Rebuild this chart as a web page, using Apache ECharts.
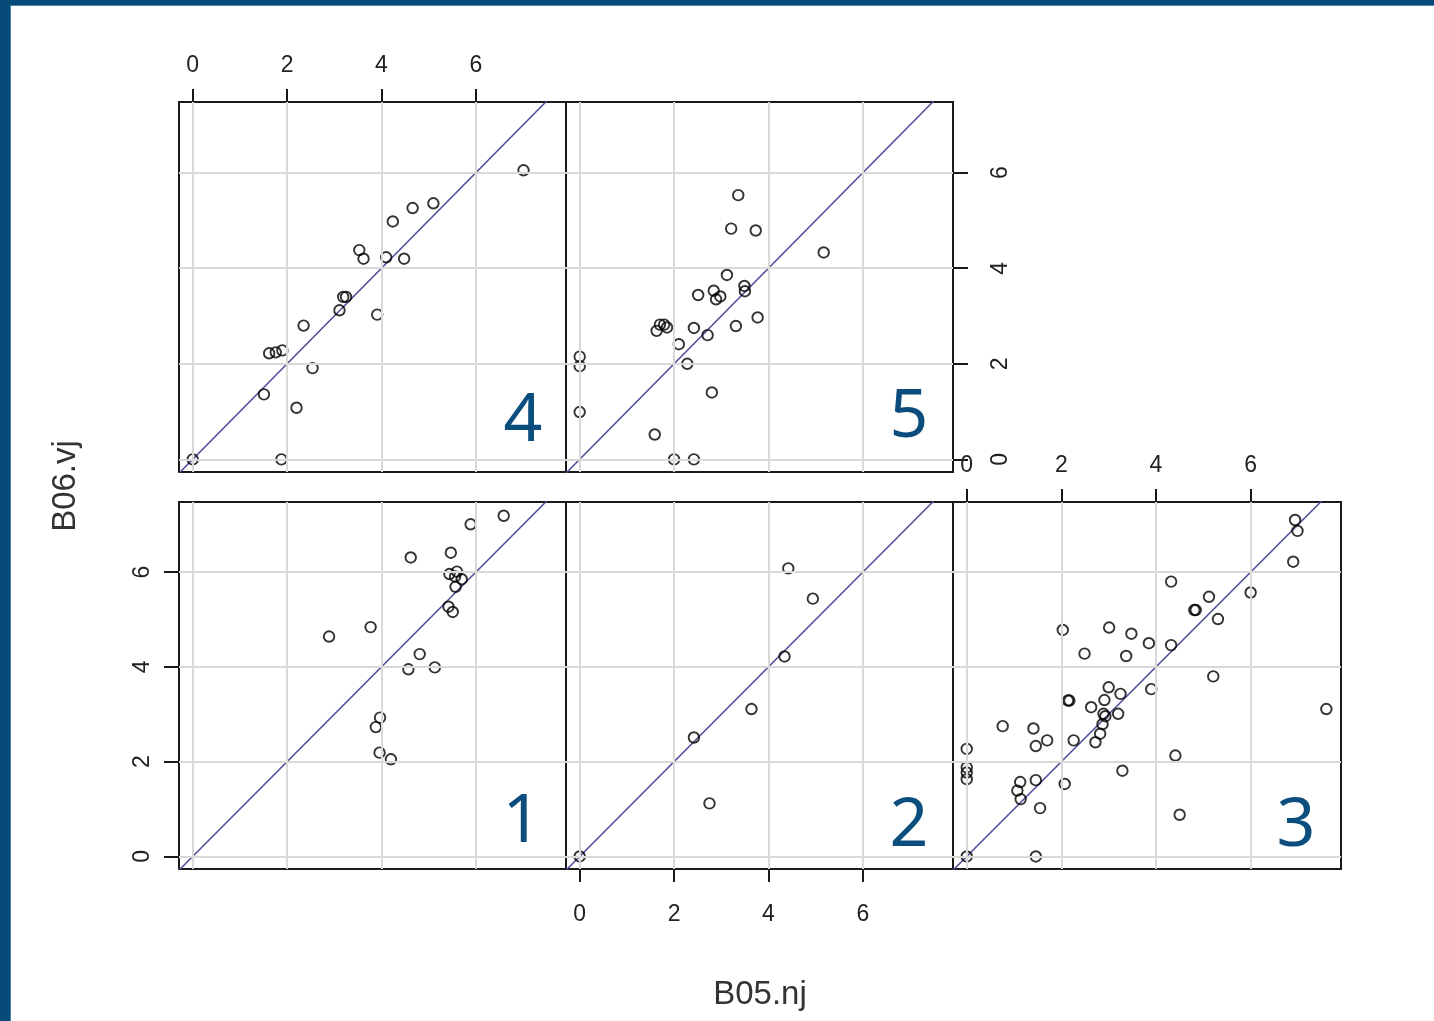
<!DOCTYPE html>
<html><head><meta charset="utf-8">
<script src="https://cdn.jsdelivr.net/npm/echarts@6/dist/echarts.min.js"></script>
<style>html,body{margin:0;padding:0;background:#fff;overflow:hidden}#c{width:1434px;height:1021px}</style>
</head><body><div id="c"></div>
<script>
// ---- data ----
const tickValues = [0, 2, 4, 6];
const gridValues = [0, 2, 4, 6];
const xTitle = 'B05.nj';
const yTitle = 'B06.vj';
const panelNames = ['1', '2', '3', '4', '5'];

const p1x = [6.59, 5.89, 4.62, 5.47, 5.44, 5.60, 5.56, 5.70, 5.57, 5.42, 5.51, 2.89, 3.77, 4.81, 4.57, 5.13, 3.97, 3.88, 3.96, 4.20];
const p1y = [7.19, 7.01, 6.31, 6.41, 5.96, 6.01, 5.91, 5.85, 5.69, 5.27, 5.16, 4.64, 4.84, 4.27, 3.95, 3.99, 2.93, 2.73, 2.19, 2.05];

const p2x = [0, 2.75, 2.42, 3.64, 4.34, 4.94, 4.42];
const p2y = [0, 1.12, 2.51, 3.11, 4.22, 5.44, 6.08];

const p3x = [0, 1.46, 0, 0, 0, 0, 1.13, 1.07, 1.14, 1.46, 1.55, 2.07, 0.76, 1.41, 1.46, 1.70, 2.26, 2.14, 2.17, 2.63, 2.72, 2.82, 2.87, 2.89, 2.93, 2.91, 3.00, 3.25, 3.20, 3.29, 3.90, 2.03, 2.49, 3.01, 3.48, 3.37, 3.85, 4.32, 4.32, 4.81, 4.84, 5.12, 5.31, 5.21, 4.41, 4.50, 6.00, 6.90, 6.94, 6.99, 7.60];
const p3y = [0, 0, 2.27, 1.88, 1.77, 1.63, 1.57, 1.39, 1.21, 1.61, 1.02, 1.53, 2.75, 2.70, 2.33, 2.45, 2.45, 3.29, 3.29, 3.15, 2.41, 2.59, 2.79, 3.01, 2.96, 3.30, 3.57, 3.43, 3.01, 1.81, 3.53, 4.78, 4.28, 4.83, 4.70, 4.23, 4.50, 4.46, 5.80, 5.20, 5.20, 5.48, 5.01, 3.80, 2.13, 0.88, 5.57, 6.22, 7.10, 6.87, 3.11];

const p4x = [0, 1.88, 1.51, 2.20, 2.54, 1.62, 1.76, 1.90, 2.35, 3.11, 3.19, 3.25, 3.91, 3.53, 3.62, 4.10, 4.48, 4.24, 4.66, 5.10, 7.01];
const p4y = [0, 0, 1.36, 1.08, 1.91, 2.22, 2.24, 2.28, 2.80, 3.12, 3.40, 3.40, 3.03, 4.38, 4.20, 4.23, 4.20, 4.98, 5.26, 5.36, 6.05];

const p5x = [0, 0, 0, 1.59, 2.00, 2.42, 2.80, 2.28, 2.10, 1.63, 1.70, 1.79, 1.85, 2.42, 2.71, 3.31, 3.77, 2.51, 2.84, 2.89, 2.98, 3.12, 3.49, 3.50, 3.21, 3.73, 3.36, 5.17];
const p5y = [2.15, 1.95, 0.99, 0.52, 0, 0, 1.40, 2.00, 2.41, 2.69, 2.82, 2.82, 2.76, 2.75, 2.60, 2.79, 2.97, 3.44, 3.53, 3.35, 3.41, 3.86, 3.63, 3.52, 4.83, 4.79, 5.53, 4.33];

// ---- layout / style ----
const X_MIN = -0.29, X_MAX = 7.91, Y_MIN = -0.265, Y_MAX = 7.48;
const BLUE = '#0b4e7e';
const INK = '#1a1a1a';
const tickFont = {fontFamily: 'Liberation Sans', fontSize: 23, color: '#222'};

const panels = [
  {name: panelNames[0], xs: p1x, ys: p1y, rect: [179, 502, 387, 367], xAxisSide: null, yAxisSide: 'left', lab: [522, 823]},
  {name: panelNames[1], xs: p2x, ys: p2y, rect: [566, 502, 387, 367], xAxisSide: 'bottom', yAxisSide: null, lab: [909, 827]},
  {name: panelNames[2], xs: p3x, ys: p3y, rect: [953, 502, 388, 367], xAxisSide: 'top', yAxisSide: null, lab: [1296, 827]},
  {name: panelNames[3], xs: p4x, ys: p4y, rect: [179, 102, 387, 370], xAxisSide: 'top', yAxisSide: null, lab: [523, 422]},
  {name: panelNames[4], xs: p5x, ys: p5y, rect: [566, 102, 387, 370], xAxisSide: null, yAxisSide: 'right', lab: [909, 418]}
];

const grids = [], xAxes = [], yAxes = [], series = [], graphics = [];

panels.forEach((p, i) => {
  grids.push({left: p.rect[0], top: p.rect[1], width: p.rect[2], height: p.rect[3],
    show: true, borderColor: INK, borderWidth: 2, backgroundColor: 'rgba(0,0,0,0)'});
  const xShow = !!p.xAxisSide;
  xAxes.push({type: 'value', gridIndex: i, min: X_MIN, max: X_MAX,
    position: p.xAxisSide || 'bottom',
    axisLine: {show: xShow, onZero: false, lineStyle: {color: INK, width: 2}}, splitLine: {show: false},
    axisTick: {show: xShow, customValues: tickValues, length: 13, lineStyle: {color: INK, width: 2}},
    axisLabel: Object.assign({show: xShow, customValues: tickValues,
      margin: p.xAxisSide === 'bottom' ? 34 : 25}, tickFont)});
  const yShow = !!p.yAxisSide;
  yAxes.push({type: 'value', gridIndex: i, min: Y_MIN, max: Y_MAX,
    position: p.yAxisSide || 'left',
    axisLine: {show: yShow, onZero: false, lineStyle: {color: INK, width: 2}}, splitLine: {show: false},
    axisTick: {show: yShow, customValues: tickValues, length: 15, lineStyle: {color: INK, width: 2}},
    axisLabel: Object.assign({show: yShow, customValues: tickValues, rotate: 90,
      margin: p.yAxisSide === 'right' ? 36 : 25}, tickFont)});

  // reference grid lines
  series.push({type: 'line', xAxisIndex: i, yAxisIndex: i, data: [], silent: true, z: 1,
    markLine: {silent: true, symbol: ['none', 'none'], animation: false, label: {show: false},
      emphasis: {disabled: true},
      lineStyle: {color: '#d9d9d9', width: 2, type: 'solid'},
      data: gridValues.map(v => ({xAxis: v})).concat(gridValues.map(v => ({yAxis: v})))}});
  // y = x reference line
  const lo = Math.min(X_MIN, Y_MIN) - 1, hi = Math.max(X_MAX, Y_MAX) + 1;
  series.push({type: 'line', xAxisIndex: i, yAxisIndex: i, data: [[lo, lo], [hi, hi]],
    showSymbol: false, silent: true, clip: true, z: 2,
    lineStyle: {color: '#4d4d99', width: 1.5}});
  // points
  series.push({type: 'scatter', xAxisIndex: i, yAxisIndex: i, z: 3,
    data: p.xs.map((x, k) => [x, p.ys[k]]),
    symbol: 'circle', symbolSize: 10.5,
    itemStyle: {color: 'rgba(0,0,0,0)', borderColor: '#000', borderWidth: 1.9}});
  // panel number
  graphics.push({type: 'text', x: p.lab[0], y: p.lab[1], z: 10,
    style: {text: p.name, fontFamily: 'Noto Sans', fontSize: 68, fill: BLUE,
      textAlign: 'center', textVerticalAlign: 'middle'}});
});

graphics.push({type: 'text', x: 760, y: 995, style: {text: xTitle, fontFamily: 'Liberation Sans', fontSize: 33,
  fill: '#333', textAlign: 'center', textVerticalAlign: 'middle'}});
graphics.push({type: 'text', x: 66, y: 486, rotation: Math.PI / 2, style: {text: yTitle, fontFamily: 'Liberation Sans', fontSize: 33,
  fill: '#333', textAlign: 'center', textVerticalAlign: 'middle'}});
// slide frame
graphics.push({type: 'rect', shape: {x: 0, y: 0, width: 1434, height: 5}, style: {fill: '#064b79'}});
graphics.push({type: 'rect', shape: {x: 0, y: 5, width: 1434, height: 1}, style: {fill: '#4a86a8'}});
graphics.push({type: 'rect', shape: {x: 0, y: 0, width: 10, height: 1021}, style: {fill: '#064b79'}});
graphics.push({type: 'rect', shape: {x: 10, y: 6, width: 1, height: 1015}, style: {fill: '#4a86a8'}});

const chart = echarts.init(document.getElementById('c'), null, {renderer: 'canvas'});
chart.setOption({
  animation: false,
  backgroundColor: '#ffffff',
  grid: grids, xAxis: xAxes, yAxis: yAxes, series: series, graphic: graphics
});
</script></body></html>
